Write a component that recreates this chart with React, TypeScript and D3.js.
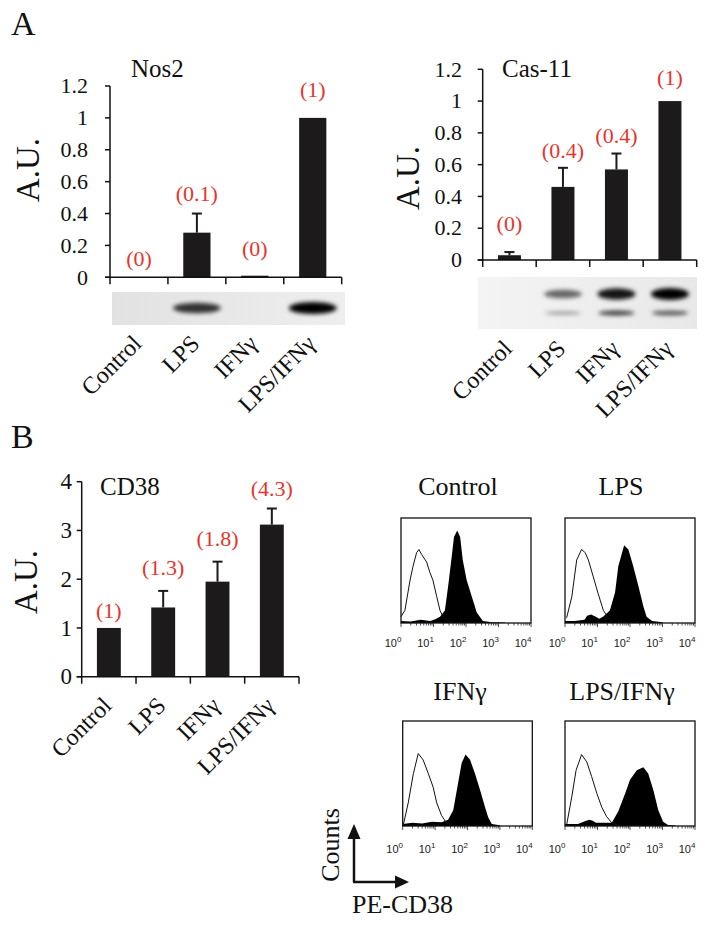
import React from "react";
import * as d3 from "d3";

// ---------- DATA ----------
const categories = ["Control", "LPS", "IFNγ", "LPS/IFNγ"];

const nos2Values = [0, 0.28, 0.01, 1.0];
const nos2Errors = [0, 0.12, 0, 0];
const nos2Labels = ["(0)", "(0.1)", "(0)", "(1)"];

const cas11Values = [0.03, 0.46, 0.57, 1.0];
const cas11Errors = [0.02, 0.12, 0.1, 0];
const cas11Labels = ["(0)", "(0.4)", "(0.4)", "(1)"];

const cd38Values = [1.0, 1.42, 1.95, 3.12];
const cd38Errors = [0, 0.34, 0.41, 0.33];
const cd38Labels = ["(1)", "(1.3)", "(1.8)", "(4.3)"];

const auTicks = [0, 0.2, 0.4, 0.6, 0.8, 1, 1.2];
const auTickLabels = ["0", "0.2", "0.4", "0.6", "0.8", "1", "1.2"];
const cd38Ticks = [0, 1, 2, 3, 4];
const cd38TickLabels = ["0", "1", "2", "3", "4"];

// western blot band intensities per lane
const nos2Blot = [0, 0.75, 0, 1];
const cas11BlotUpper = [0, 0.5, 0.9, 1];
const cas11BlotLower = [0, 0.25, 0.7, 0.6];

// flow cytometry histograms: [log10(PE-CD38), relative counts]
const flowDecades = [0, 1, 2, 3, 4];
const flowTitles = ["Control", "LPS", "IFNγ", "LPS/IFNγ"];

const isoControl = [[0, 0.06], [0.12, 0.12], [0.28, 0.41], [0.37, 0.54], [0.48, 0.67], [0.55, 0.7], [0.64, 0.65], [0.79, 0.58], [0.89, 0.48], [0.98, 0.41], [1.1, 0.25], [1.2, 0.12], [1.29, 0.06], [1.45, 0.02], [1.6, 0.005]];
const cd38Control = [[0, 0.02], [0.3, 0.015], [0.6, 0.03], [0.9, 0.02], [1.05, 0.035], [1.2, 0.06], [1.35, 0.12], [1.45, 0.35], [1.56, 0.63], [1.63, 0.82], [1.73, 0.88], [1.82, 0.82], [1.9, 0.6], [2.02, 0.41], [2.18, 0.25], [2.33, 0.1], [2.52, 0.02], [2.8, 0.008], [3.2, 0.005]];

const isoLPS = [[0.05, 0.05], [0.21, 0.25], [0.36, 0.6], [0.51, 0.7], [0.62, 0.67], [0.72, 0.6], [0.87, 0.44], [1.02, 0.28], [1.18, 0.12], [1.33, 0.05], [1.45, 0.01]];
const cd38LPS = [[0, 0.02], [0.3, 0.02], [0.6, 0.03], [0.68, 0.07], [0.8, 0.08], [0.95, 0.06], [1.05, 0.04], [1.17, 0.06], [1.38, 0.12], [1.54, 0.29], [1.64, 0.54], [1.82, 0.74], [1.95, 0.7], [2.1, 0.54], [2.26, 0.35], [2.41, 0.16], [2.51, 0.06], [2.68, 0.02], [3.0, 0.006]];

const isoIFN = [[0.02, 0.01], [0.17, 0.22], [0.33, 0.5], [0.48, 0.69], [0.63, 0.63], [0.79, 0.5], [0.94, 0.37], [1.05, 0.22], [1.2, 0.1], [1.35, 0.03], [1.5, 0.01]];
const cd38IFN = [[0, 0.02], [0.3, 0.03], [0.6, 0.025], [0.9, 0.04], [1.2, 0.035], [1.4, 0.06], [1.56, 0.15], [1.71, 0.41], [1.82, 0.6], [1.94, 0.68], [2.08, 0.63], [2.23, 0.5], [2.39, 0.34], [2.54, 0.18], [2.64, 0.08], [2.75, 0.02], [3.0, 0.006]];

const isoLPSIFN = [[0.05, 0.01], [0.21, 0.28], [0.34, 0.53], [0.51, 0.68], [0.67, 0.61], [0.82, 0.47], [0.98, 0.31], [1.13, 0.18], [1.28, 0.09], [1.44, 0.03], [1.6, 0.01]];
const cd38LPSIFN = [[0, 0.02], [0.4, 0.02], [0.65, 0.05], [0.75, 0.06], [0.85, 0.05], [0.95, 0.03], [1.2, 0.03], [1.44, 0.03], [1.64, 0.14], [1.85, 0.31], [2.0, 0.44], [2.21, 0.53], [2.41, 0.56], [2.56, 0.5], [2.72, 0.34], [2.87, 0.15], [3.02, 0.04], [3.17, 0.01], [3.4, 0.004]];

// ---------- STYLE ----------
const SERIF = "'Liberation Serif', 'Times New Roman', serif";
const SANS = "'Liberation Sans', Arial, sans-serif";
const RED = "#e5352d";
const BAR = "#1c1a1a";

type BarChartProps = {
  values: number[]; errors: number[]; labels: string[]; labelLift: number[];
  x0: number; x1: number; yZero: number; yTop: number; max: number;
  ticks: number[]; tickLabels: string[]; tickLabelX: number; tickFont: number;
  title: string; titleX: number; titleY: number;
  auX: number; auY: number; xLabelY: number; xLabelDx: number; padding: number;
};

function BarChart(p: BarChartProps) {
  const x = d3.scaleBand<string>().domain(categories).range([p.x0, p.x1])
    .paddingInner(p.padding).paddingOuter(p.padding / 2);
  const y = d3.scaleLinear().domain([0, p.max]).range([p.yZero, p.yTop]);
  const step = x.step();
  const edges = d3.range(categories.length + 1).map((i) => p.x0 + i * step);
  return (
    <g>
      {/* bars */}
      {categories.map((c, i) => (
        <rect key={"b" + c} x={x(c)} width={x.bandwidth()} y={y(p.values[i])}
          height={p.yZero - y(p.values[i])} fill={BAR} />
      ))}
      {/* error bars */}
      {categories.map((c, i) => {
        if (!p.errors[i]) return null;
        const cx = (x(c) as number) + x.bandwidth() / 2;
        const yt = y(p.values[i] + p.errors[i]);
        return (
          <g key={"e" + c} stroke={BAR} strokeWidth={2}>
            <line x1={cx} x2={cx} y1={y(p.values[i])} y2={yt} />
            <line x1={cx - 5} x2={cx + 5} y1={yt} y2={yt} />
          </g>
        );
      })}
      {/* axes */}
      <g stroke="#111" strokeWidth={1.5} fill="none">
        <line x1={p.x0} x2={p.x0} y1={p.yZero} y2={y(p.max)} />
        <line x1={p.x0 - 5} x2={p.x1} y1={p.yZero} y2={p.yZero} />
        {p.ticks.map((t) => (
          <line key={"yt" + t} x1={p.x0 - 5} x2={p.x0} y1={y(t)} y2={y(t)} />
        ))}
        {edges.map((ex, i) => (
          <line key={"xt" + i} x1={ex} x2={ex} y1={p.yZero} y2={p.yZero + 7} />
        ))}
      </g>
      {p.ticks.map((t, i) => (
        <text key={"tl" + t} x={p.tickLabelX} y={y(t)} dy="0.33em" textAnchor="end"
          fontFamily={SERIF} fontSize={p.tickFont} fill="#111">{p.tickLabels[i]}</text>
      ))}
      {/* value labels */}
      {categories.map((c, i) => {
        const cx = (x(c) as number) + x.bandwidth() / 2;
        const yt = y(p.values[i] + p.errors[i]);
        return (
          <text key={"v" + c} x={cx} y={yt - p.labelLift[i]} textAnchor="middle"
            fontFamily={SERIF} fontSize={22} fill={RED}>{p.labels[i]}</text>
        );
      })}
      {/* title */}
      <text x={p.titleX} y={p.titleY} fontFamily={SERIF} fontSize={25} fill="#111">{p.title}</text>
      {/* A.U. */}
      <text transform={`translate(${p.auX},${p.auY}) rotate(-90)`} textAnchor="middle" dy="0.35em"
        fontFamily={SERIF} fontSize={33} fill="#111">A.U.</text>
      {/* category labels */}
      {categories.map((c) => {
        const cx = (x(c) as number) + x.bandwidth() / 2 + p.xLabelDx;
        return (
          <text key={"xl" + c} transform={`translate(${cx},${p.xLabelY}) rotate(-45)`}
            textAnchor="end" fontFamily={SERIF} fontSize={24} fill="#111">{c}</text>
        );
      })}
    </g>
  );
}

type BlotProps = {
  id: string; x0: number; x1: number; y0: number; y1: number;
  laneX0: number; laneX1: number; rows: { values: number[]; cy: number; h: number; w: number }[];
  bgLeft: string; bgRight: string;
};

function Blot(p: BlotProps) {
  const x = d3.scaleBand<string>().domain(categories).range([p.laneX0, p.laneX1]);
  return (
    <g>
      <defs>
        <linearGradient id={p.id + "bg"} x1="0" x2="1" y1="0" y2="0">
          <stop offset="0" stopColor={p.bgLeft} />
          <stop offset="1" stopColor={p.bgRight} />
        </linearGradient>
        <filter id={p.id + "blur"} x="-30%" y="-100%" width="160%" height="300%">
          <feGaussianBlur stdDeviation="2.2" />
        </filter>
        <clipPath id={p.id + "clip"}>
          <rect x={p.x0} y={p.y0} width={p.x1 - p.x0} height={p.y1 - p.y0} />
        </clipPath>
      </defs>
      <rect x={p.x0} y={p.y0} width={p.x1 - p.x0} height={p.y1 - p.y0} fill={`url(#${p.id}bg)`} />
      <g clipPath={`url(#${p.id}clip)`} filter={`url(#${p.id}blur)`}>
        {p.rows.map((r, ri) =>
          categories.map((c, i) => {
            const v = r.values[i];
            if (!v) return null;
            const cx = (x(c) as number) + x.bandwidth() / 2;
            const h = r.h * (0.45 + 0.55 * v);
            return (
              <ellipse key={ri + c} cx={cx} cy={r.cy} rx={r.w / 2} ry={h / 2}
                fill="#000" fillOpacity={0.15 + 0.85 * v} />
            );
          })
        )}
      </g>
    </g>
  );
}

type HistProps = {
  x0: number; x1: number; y0: number; y1: number; iso: number[][]; pos: number[][];
  title: string; titleX: number; titleY: number; labelY: number;
};

function Hist(p: HistProps) {
  const xs = d3.scaleLinear().domain([0, 4]).range([p.x0, p.x1]);
  const ys = d3.scaleLinear().domain([0, 1]).range([p.y1, p.y0]);
  const area = d3.area<number[]>().x((d) => xs(d[0])).y0(p.y1).y1((d) => ys(d[1]));
  const line = d3.line<number[]>().x((d) => xs(d[0])).y((d) => ys(d[1]));
  const minor: number[] = [];
  for (let dec = 0; dec < 4; dec++) for (let k = 2; k <= 9; k++) minor.push(dec + Math.log10(k));
  return (
    <g>
      <text x={p.titleX} y={p.titleY} textAnchor="middle" fontFamily={SERIF} fontSize={26} fill="#111">{p.title}</text>
      <path d={area(p.pos) as string} fill="#000" />
      <path d={line(p.iso) as string} fill="none" stroke="#111" strokeWidth={1} />
      <rect x={p.x0} y={p.y0} width={p.x1 - p.x0} height={p.y1 - p.y0} fill="none" stroke="#111" strokeWidth={1.3} />
      <g stroke="#222" strokeWidth={0.8}>
        {minor.map((m, i) => (
          <line key={i} x1={xs(m)} x2={xs(m)} y1={p.y1} y2={p.y1 + 2.5} />
        ))}
        {flowDecades.map((d) => (
          <line key={"M" + d} x1={xs(d)} x2={xs(d)} y1={p.y1} y2={p.y1 + 4} />
        ))}
      </g>
      {flowDecades.map((d) => (
        <text key={"l" + d} x={xs(d) - 8} y={p.labelY} textAnchor="middle" fontFamily={SANS} fontSize={11} fill="#222">
          10<tspan dy={-5} fontSize={8}>{d}</tspan>
        </text>
      ))}
    </g>
  );
}

export default function App() {
  return (
    <svg width={714} height={927} style={{ position: "absolute", left: 0, top: 0, background: "#fff" }}>
      <rect x={0} y={0} width={714} height={927} fill="#fff" />
      <text x={11} y={35} fontFamily={SERIF} fontSize={34} fill="#111">A</text>
      <text x={11} y={448} fontFamily={SERIF} fontSize={34} fill="#111">B</text>

      <BarChart values={nos2Values} errors={nos2Errors} labels={nos2Labels} labelLift={[11, 13, 20, 21]}
        x0={110} x1={341.7} yZero={277.3} yTop={86} max={1.2}
        ticks={auTicks} tickLabels={auTickLabels} tickLabelX={88} tickFont={22}
        title="Nos2" titleX={131} titleY={77} auX={27} auY={170}
        xLabelY={345} xLabelDx={4} padding={0.53} />
      <Blot id="nos2" x0={112} x1={345} y0={292} y1={325} laneX0={110} laneX1={341.7}
        rows={[{ values: nos2Blot, cy: 308, h: 12, w: 48 }]} bgLeft="#e2e2e2" bgRight="#eeeeee" />

      <BarChart values={cas11Values} errors={cas11Errors} labels={cas11Labels} labelLift={[21, 10, 10.5, 16]}
        x0={482.7} x1={696.7} yZero={260} yTop={69.3} max={1.2}
        ticks={auTicks} tickLabels={auTickLabels} tickLabelX={462} tickFont={22}
        title="Cas-11" titleX={502} titleY={77} auX={407} auY={178}
        xLabelY={350} xLabelDx={4} padding={0.57} />
      <Blot id="cas" x0={478} x1={697} y0={277} y1={329} laneX0={482.7} laneX1={696.7}
        rows={[
          { values: cas11BlotUpper, cy: 294, h: 12, w: 38 },
          { values: cas11BlotLower, cy: 313, h: 6, w: 36 },
        ]} bgLeft="#f4f4f4" bgRight="#e8e8e8" />

      <BarChart values={cd38Values} errors={cd38Errors} labels={cd38Labels} labelLift={[10, 16, 16, 12.5]}
        x0={81.7} x1={299} yZero={676.7} yTop={481.7} max={4}
        ticks={cd38Ticks} tickLabels={cd38TickLabels} tickLabelX={72} tickFont={23}
        title="CD38" titleX={100} titleY={495} auX={25} auY={582}
        xLabelY={707} xLabelDx={4} padding={0.56} />

      <Hist x0={401} x1={531} y0={518} y1={623} iso={isoControl} pos={cd38Control}
        title={flowTitles[0]} titleX={458} titleY={495} labelY={647} />
      <Hist x0={565} x1={695} y0={518} y1={623} iso={isoLPS} pos={cd38LPS}
        title={flowTitles[1]} titleX={621} titleY={495} labelY={647} />
      <Hist x0={402.7} x1={532.3} y0={721} y1={826} iso={isoIFN} pos={cd38IFN}
        title={flowTitles[2]} titleX={460} titleY={700} labelY={853} />
      <Hist x0={565} x1={695} y0={721} y1={826} iso={isoLPSIFN} pos={cd38LPSIFN}
        title={flowTitles[3]} titleX={622} titleY={700} labelY={853} />

      {/* axes legend arrows */}
      <g stroke="#111" strokeWidth={2.5} fill="none">
        <line x1={354} x2={354} y1={882} y2={836} />
        <line x1={353} x2={397} y1={882} y2={882} />
      </g>
      <polygon points="354,824 347.5,839 360.5,839" fill="#111" />
      <polygon points="409,882 395,875.5 395,888.5" fill="#111" />
      <text transform="translate(330,845) rotate(-90)" textAnchor="middle" dy="0.35em"
        fontFamily={SERIF} fontSize={26} fill="#111">Counts</text>
      <text x={352} y={913} fontFamily={SERIF} fontSize={26} fill="#111">PE-CD38</text>
    </svg>
  );
}
